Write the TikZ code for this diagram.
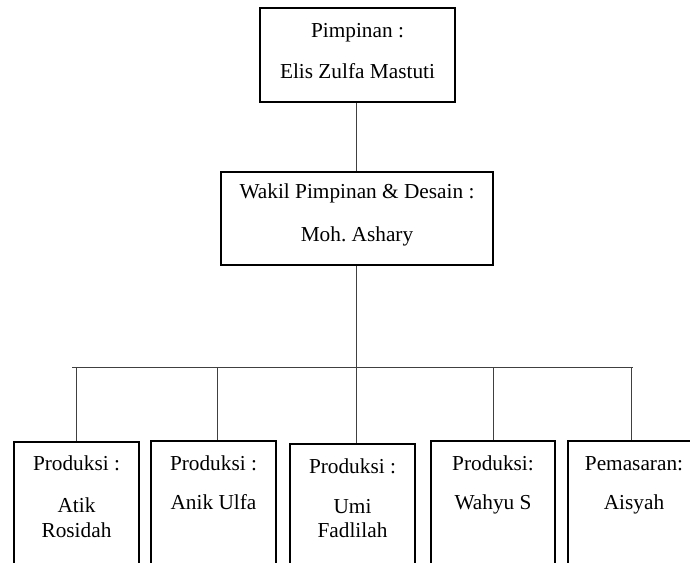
\documentclass[tikz,border=0pt]{standalone}
\usepackage{fontspec}
\setmainfont{Liberation Serif}
\frenchspacing
\begin{document}
\begin{tikzpicture}[x=1pt,y=-1pt,
  box/.style={draw=black,line width=1.5pt,rectangle,inner sep=0pt},
  conn/.style={draw=black!75,line width=1pt},
  txt/.style={anchor=base,inner sep=0pt,font=\fontsize{21.3}{25}\selectfont}]
\useasboundingbox (0,0) rectangle (690,562);
\clip (0,0) rectangle (690,562);
% boxes
\node[box,minimum width=195pt,minimum height=94pt] (top) at (357.5,55) {};
\node[box,minimum width=272pt,minimum height=93pt] (mid) at (357,218.5) {};
\node[box,minimum width=125pt,minimum height=150pt,anchor=north] (b1) at (76.5,441) {};
\node[box,minimum width=125pt,minimum height=150pt,anchor=north] (b2) at (213.5,440) {};
\node[box,minimum width=125pt,minimum height=150pt,anchor=north] (b3) at (352.5,443) {};
\node[box,minimum width=124pt,minimum height=150pt,anchor=north] (b4) at (493,440) {};
\node[box,minimum width=126pt,minimum height=150pt,anchor=north] (b5) at (631,440) {};
% texts
\node[txt] (t1) at (357.5,37) {Pimpinan :};
\node[txt] (t2) at (357.5,78) {Elis Zulfa Mastuti};
\node[txt] (m1) at (357,198) {Wakil Pimpinan \& Desain :};
\node[txt] (m2) at (357,241) {Moh.\ Ashary};
\node[txt] (h1) at (76.5,470) {Produksi :};
\node[txt] (n1a) at (76.5,512) {Atik};
\node[txt] (n1b) at (76.5,537) {Rosidah};
\node[txt] (h2) at (213.5,470) {Produksi :};
\node[txt] (n2) at (213.5,509) {Anik Ulfa};
\node[txt] (h3) at (352.5,473) {Produksi :};
\node[txt] (n3a) at (352.5,513) {Umi};
\node[txt] (n3b) at (352.5,537) {Fadlilah};
\node[txt] (h4) at (493,470) {Produksi:};
\node[txt] (n4) at (493,509) {Wahyu S};
\node[txt] (h5) at (634,470) {Pemasaran:};
\node[txt] (n5) at (634,509) {Aisyah};
% connectors
\coordinate (hl) at (72,367);
\coordinate (hr) at (633,367);
\coordinate (j1) at (76,367);
\coordinate (j2) at (217,367);
\coordinate (j3) at (356,367);
\coordinate (j4) at (493,367);
\coordinate (j5) at (631,367);
\draw[conn] (top.south -| j3) -- (mid.north -| j3);
\draw[conn] (mid.south -| j3) -- (j3);
\draw[conn] (hl) -- (hr);
\draw[conn] (j1) -- (j1 |- b1.north);
\draw[conn] (j2) -- (j2 |- b2.north);
\draw[conn] (j3) -- (j3 |- b3.north);
\draw[conn] (j4) -- (j4 |- b4.north);
\draw[conn] (j5) -- (j5 |- b5.north);
\end{tikzpicture}
\end{document}
